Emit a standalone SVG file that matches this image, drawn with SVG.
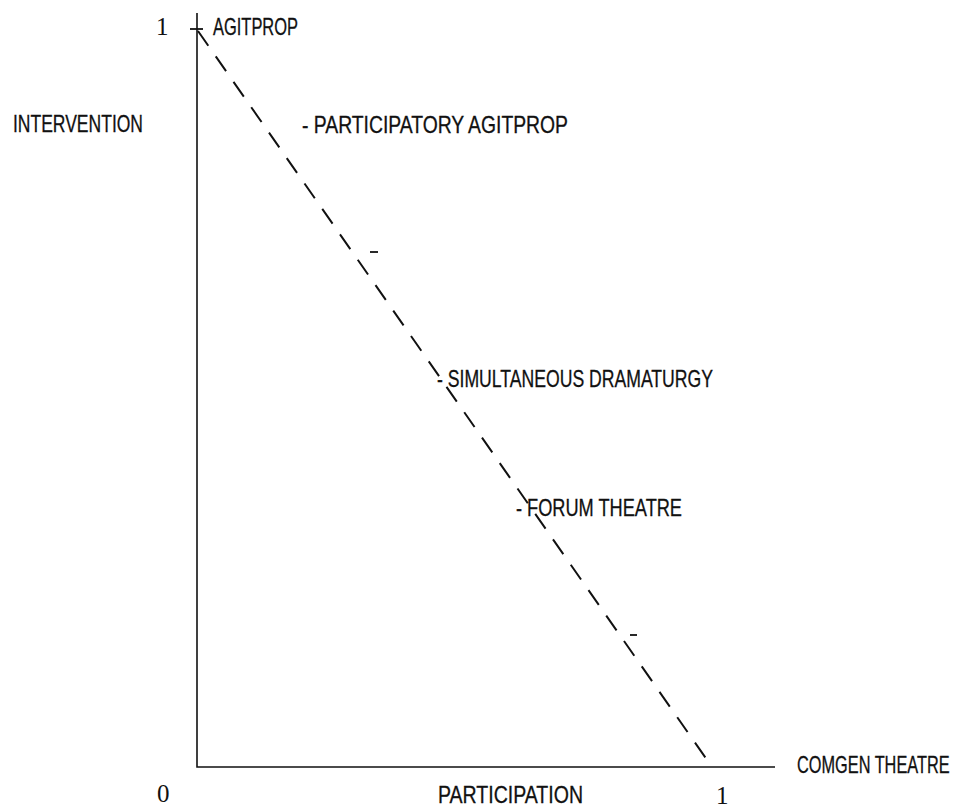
<svg xmlns="http://www.w3.org/2000/svg" width="955" height="808" viewBox="0 0 955 808">
  <style>
    .lbl { font-family: "Liberation Sans", Arial, sans-serif; font-size: 24px; fill: #111; stroke: #111; stroke-width: 0.3; }
    .num { font-family: "Liberation Serif", "Times New Roman", serif; font-size: 25px; fill: #111; }
    .axis { stroke: #111; stroke-width: 1.6; fill: none; }
    .trend { stroke: #111; stroke-width: 2; fill: none; stroke-dasharray: 18 13; }
    .tick { stroke: #111; stroke-width: 1.8; }
  </style>
  <rect width="955" height="808" fill="#fff"/>

  <!-- axes, trend line and tick marks -->
  <g id="connectors">
    <path class="axis" d="M197 13 V767 H775"/>
    <line class="tick" x1="190" y1="29" x2="203" y2="29"/>
    <line class="trend" x1="198" y1="31" x2="712" y2="767"/>
    <line class="tick" x1="370" y1="252" x2="378" y2="252"/>
    <line class="tick" x1="630" y1="635" x2="637" y2="635"/>
  </g>

  <!-- axis scale values -->
  <g id="scale-top"><text class="num" x="156" y="35">1</text></g>
  <g id="scale-origin"><text class="num" x="157" y="802">0</text></g>
  <g id="scale-right"><text class="num" x="716" y="804">1</text></g>

  <!-- axis titles -->
  <g id="axis-intervention"><text class="lbl" x="13" y="132" textLength="130" lengthAdjust="spacingAndGlyphs">INTERVENTION</text></g>
  <g id="axis-participation"><text class="lbl" x="438" y="803" textLength="145" lengthAdjust="spacingAndGlyphs">PARTICIPATION</text></g>

  <!-- points along the line -->
  <g id="agitprop"><text class="lbl" x="213" y="35" textLength="85" lengthAdjust="spacingAndGlyphs">AGITPROP</text></g>
  <g id="participatory-agitprop"><text class="lbl" x="302" y="133" textLength="266" lengthAdjust="spacingAndGlyphs">- PARTICIPATORY AGITPROP</text></g>
  <g id="simultaneous-dramaturgy"><text class="lbl" x="437" y="387" textLength="276" lengthAdjust="spacingAndGlyphs">- SIMULTANEOUS DRAMATURGY</text></g>
  <g id="forum-theatre"><text class="lbl" x="516" y="516" textLength="166" lengthAdjust="spacingAndGlyphs">- FORUM THEATRE</text></g>
  <g id="comgen-theatre"><text class="lbl" transform="translate(797 773) scale(0.68 1)">COMGEN THEATRE</text></g>
</svg>
